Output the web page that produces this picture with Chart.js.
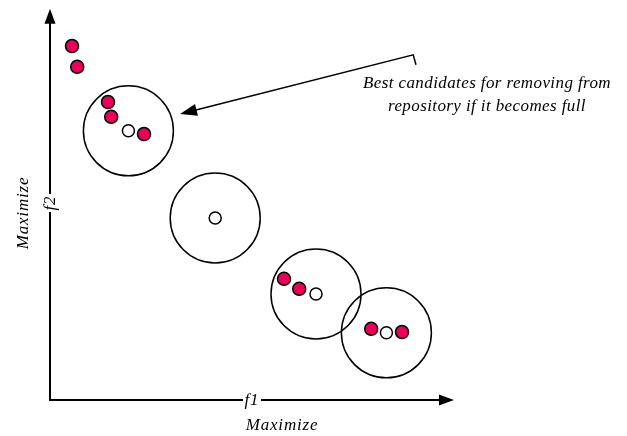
<!DOCTYPE html>
<html>
<head>
<meta charset="utf-8">
<script src="https://cdn.jsdelivr.net/npm/chart.js@4.4.1/dist/chart.umd.min.js"></script>
<style>
  html, body { margin: 0; padding: 0; background: #fff; }
  #wrap { width: 627px; height: 436px; position: relative; }
</style>
</head>
<body>
<div id="wrap"><canvas id="paretoChart"></canvas></div>
<script>
// non-dominated solutions in the repository (f1, f2)
const redF1 = [5.5, 6.8, 14.5, 15.3, 23.5, 58.5, 62.3, 80.3, 88];
const redF2 = [88.5, 83.3, 74.5, 70.8, 66.5, 30.3, 27.8, 17.8, 17];
// hypercube centres (the crowded / sparse regions)
const cellF1 = [19.6, 41.3, 66.5, 84.1];
const cellF2 = [67.3, 45.5, 26.5, 16.8];
// axis ends and annotation anchor (data units)
const axisEndF1 = 101;
const axisEndF2 = 97.8;
const noteLine = [[91.5, 83.8], [90.8, 86.3], [32.5, 71.5]];
const noteText = ['Best candidates for removing from', 'repository if it becomes full'];

const toPts = (xs, ys) => xs.map((x, i) => ({ x: x, y: ys[i] }));

const serif = "'Liberation Serif', 'DejaVu Serif', serif";

function arrowHead(ctx, x0, y0, x1, y1, len, half) {
    const a = Math.atan2(y1 - y0, x1 - x0);
    ctx.beginPath();
    ctx.moveTo(x1, y1);
    ctx.lineTo(x1 - len * Math.cos(a) + half * Math.sin(a), y1 - len * Math.sin(a) - half * Math.cos(a));
    ctx.lineTo(x1 - len * Math.cos(a) - half * Math.sin(a), y1 - len * Math.sin(a) + half * Math.cos(a));
    ctx.closePath();
    ctx.fill();
}

const decorations = {
    id: 'decorations',
    afterDatasetsDraw(chart) {
        const ctx = chart.ctx;
        const xs = chart.scales.x, ys = chart.scales.y;
        const ox = xs.getPixelForValue(0), oy = ys.getPixelForValue(0);
        const ex = xs.getPixelForValue(axisEndF1), ey = ys.getPixelForValue(axisEndF2);
        ctx.save();
        ctx.strokeStyle = '#000';
        ctx.fillStyle = '#000';
        ctx.lineWidth = 2;
        // axes
        ctx.beginPath();
        ctx.moveTo(ox, ey + 10);
        ctx.lineTo(ox, oy);
        ctx.lineTo(ex - 10, oy);
        ctx.stroke();
        arrowHead(ctx, ox, oy, ex, oy, 15, 5.5);
        arrowHead(ctx, ox, oy, ox, ey, 15, 5.5);

        // axis names on the lines
        ctx.font = 'italic 17px ' + serif;
        ctx.letterSpacing = '0.8px';
        ctx.textAlign = 'center';
        ctx.textBaseline = 'middle';
        const fx = 252;
        ctx.fillStyle = '#fff';
        ctx.fillRect(fx - 9, oy - 8, 18, 16);
        ctx.fillStyle = '#000';
        ctx.fillText('f1', fx, oy + 1);
        ctx.fillText('Maximize', 282, oy + 26);

        ctx.save();
        ctx.translate(ox, 203);
        ctx.rotate(-Math.PI / 2);
        ctx.fillStyle = '#fff';
        ctx.fillRect(-9, -8, 18, 16);
        ctx.fillStyle = '#000';
        ctx.fillText('f2', 0, 1);
        ctx.restore();

        ctx.save();
        ctx.translate(ox - 26, 213);
        ctx.rotate(-Math.PI / 2);
        ctx.fillText('Maximize', 0, 0);
        ctx.restore();

        // annotation arrow
        const p = noteLine.map(q => [xs.getPixelForValue(q[0]), ys.getPixelForValue(q[1])]);
        ctx.lineWidth = 1.5;
        ctx.beginPath();
        ctx.moveTo(p[0][0], p[0][1]);
        ctx.lineTo(p[1][0], p[1][1]);
        ctx.lineTo(p[2][0] + 12, p[2][1] - 3);
        ctx.stroke();
        arrowHead(ctx, p[1][0], p[1][1], p[2][0], p[2][1], 17, 6);

        ctx.font = 'italic 17px ' + serif;
        ctx.letterSpacing = '0.4px';
        ctx.fillText(noteText[0], 487, 84);
        ctx.fillText(noteText[1], 487, 107);
        ctx.restore();
    }
};

new Chart(document.getElementById('paretoChart'), {
    type: 'scatter',
    data: {
        datasets: [{
            label: 'Hypercubes',
            data: toPts(cellF1, cellF2),
            pointRadius: 45,
            borderWidth: 1.5,
            borderColor: '#000',
            backgroundColor: 'rgba(0,0,0,0)'
        }, {
            label: 'Repository',
            data: toPts(redF1, redF2),
            pointRadius: 6.5,
            borderWidth: 1.5,
            borderColor: '#000',
            backgroundColor: '#ec0058'
        }, {
            label: 'Centres',
            data: toPts(cellF1, cellF2),
            pointRadius: 6,
            borderWidth: 1.5,
            borderColor: '#000',
            backgroundColor: '#fff'
        }]
    },
    options: {
        responsive: true,
        maintainAspectRatio: false,
        animation: false,
        layout: { padding: 0, autoPadding: false },
        scales: {
            x: { type: 'linear', display: false, min: -12.5, max: 144.25 },
            y: { type: 'linear', display: false, min: -9, max: 100 }
        },
        plugins: {
            legend: { display: false },
            tooltip: { enabled: false }
        }
    },
    plugins: [decorations]
});
</script>
</body>
</html>
